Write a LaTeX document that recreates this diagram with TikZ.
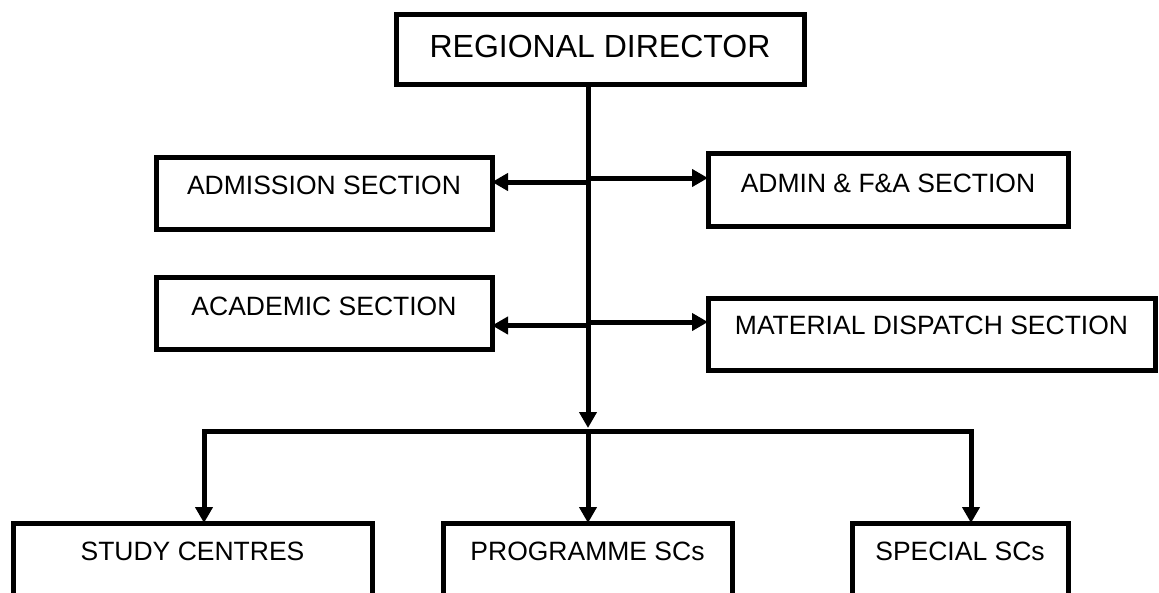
\documentclass[tikz,border=0pt]{standalone}
\usepackage{fontspec}
\setmainfont{Liberation Sans}
\usetikzlibrary{arrows.meta}
\tikzset{
  orgbox/.style={draw, line width=5pt, inner sep=0pt, outer sep=0pt, anchor=north west,
                 align=center, font=\fontsize{26.5}{30}\selectfont},
  conn/.style={line width=5pt},
  arr/.style={line width=5pt, -{Triangle[length=16pt,width=17pt]}}
}
\begin{document}
\begin{tikzpicture}[x=1pt,y=-1pt]
\useasboundingbox (0,0) rectangle (1159,592);
\clip (0,0) rectangle (1159,592);
% boxes
\node[orgbox, minimum width=408pt, text height=43pt, text depth=27pt, font=\fontsize{32}{36}\selectfont] (rd) at (396,14) {REGIONAL DIRECTOR};
\node[orgbox, minimum width=336pt, text height=37pt, text depth=35pt] (adm) at (156,157) {ADMISSION SECTION};
\node[orgbox, minimum width=360pt, text height=39pt, text depth=34pt] (admin) at (708,153) {ADMIN \& F\&A SECTION};
\node[orgbox, minimum width=336pt, text height=38pt, text depth=34pt] (acad) at (156,277) {ACADEMIC SECTION};
\node[orgbox, minimum width=447pt, text height=36pt, text depth=36pt] (md) at (708,298) {MATERIAL DISPATCH SECTION};
\node[orgbox, minimum width=359pt, text height=37pt, text depth=40pt] (sc) at (13,523) {STUDY CENTRES};
\node[orgbox, minimum width=289pt, text height=37pt, text depth=40pt] (ps) at (443,523) {PROGRAMME SCs};
\node[orgbox, minimum width=216pt, text height=37pt, text depth=40pt] (ss) at (852,523) {SPECIAL SCs};
% coordinates
\coordinate (j) at (588,431);
\coordinate (jt) at (588,428);
\coordinate (bl) at (204,431);
\coordinate (br) at (971,431);
\coordinate (aL) at (588,182);
\coordinate (aR) at (588,178);
\coordinate (cL) at (588,325.5);
\coordinate (cR) at (588,322);
% trunk
\draw[arr] (rd.south -| j) -- (jt);
% side arrows
\draw[arr] (aL) -- (aL -| adm.east);
\draw[arr] (aR) -- (aR -| admin.west);
\draw[arr] (cL) -- (cL -| acad.east);
\draw[arr] (cR) -- (cR -| md.west);
% branches
\draw[arr] (j) -- (bl) -- (bl |- sc.north);
\draw[arr] (j) -- (br) -- (br |- ss.north);
\draw[arr] (j) -- (j |- ps.north);
\end{tikzpicture}
\end{document}
